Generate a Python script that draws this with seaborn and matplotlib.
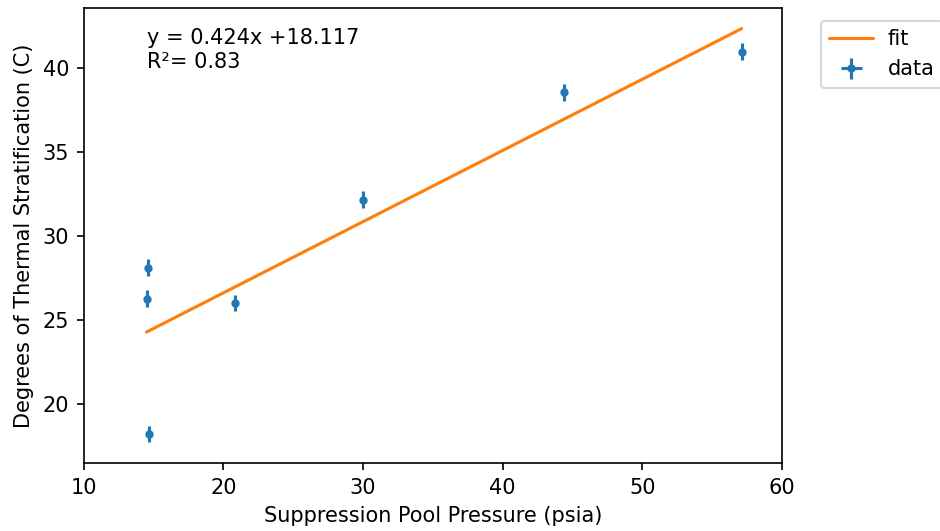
import matplotlib
matplotlib.use("Agg")
import matplotlib.pyplot as plt
import seaborn as sns
import numpy as np
import pandas as pd

# Measurements: suppression pool pressure vs. thermal stratification
pressure = [14.6, 14.5, 14.7, 20.8, 30.0, 44.4, 57.1]
stratification = [28.1, 26.25, 18.2, 26.0, 32.15, 38.55, 40.95]
pressure_err = [0.1] * 7
strat_err = [0.5] * 7

slope = 0.424
intercept = 18.117
r_squared = 0.83

sns.set_style("ticks", rc={
    "text.color": "black",
    "axes.labelcolor": "black",
    "axes.edgecolor": "black",
    "xtick.color": "black",
    "ytick.color": "black",
    "xtick.major.size": 3.5,
    "ytick.major.size": 3.5,
    "xtick.major.width": 0.8,
    "ytick.major.width": 0.8,
    "axes.linewidth": 0.8,
})
plt.rcParams["font.family"] = ["DejaVu Sans"]
plt.rcParams["font.size"] = 10

fig = plt.figure(figsize=(940 / 150, 531 / 150), dpi=150)
ax = fig.add_axes([0.089, 0.128, 0.743, 0.857])

fit_x = np.array([min(pressure), max(pressure)])
fit_df = pd.DataFrame({"x": fit_x, "y": slope * fit_x + intercept})
sns.lineplot(data=fit_df, x="x", y="y", color="C1", linewidth=1.5, label="fit", ax=ax)

ax.errorbar(pressure, stratification, xerr=pressure_err, yerr=strat_err,
            fmt=".", color="C0", label="data")

ax.set_xlim(10, 60)
ax.set_xticks([10, 20, 30, 40, 50, 60])
ax.set_yticks([20, 25, 30, 35, 40])
ax.tick_params(labelsize=10)
ax.set_xlabel("Suppression Pool Pressure (psia)", fontsize=10)
ax.set_ylabel("Degrees of Thermal Stratification (C)", fontsize=10)
for s in ax.spines.values():
    s.set_visible(True)

ax.text(0.09, 0.955, f"y = {slope}x +{intercept}\nR²= {r_squared}",
        transform=ax.transAxes, fontsize=10, va="top")

handles, labels = ax.get_legend_handles_labels()
ax.legend(handles, labels, loc="upper left", bbox_to_anchor=(1.041, 0.995),
          fontsize=10, frameon=True, handlelength=2.1, handletextpad=0.7)

fig.savefig("out.png", dpi=150)
